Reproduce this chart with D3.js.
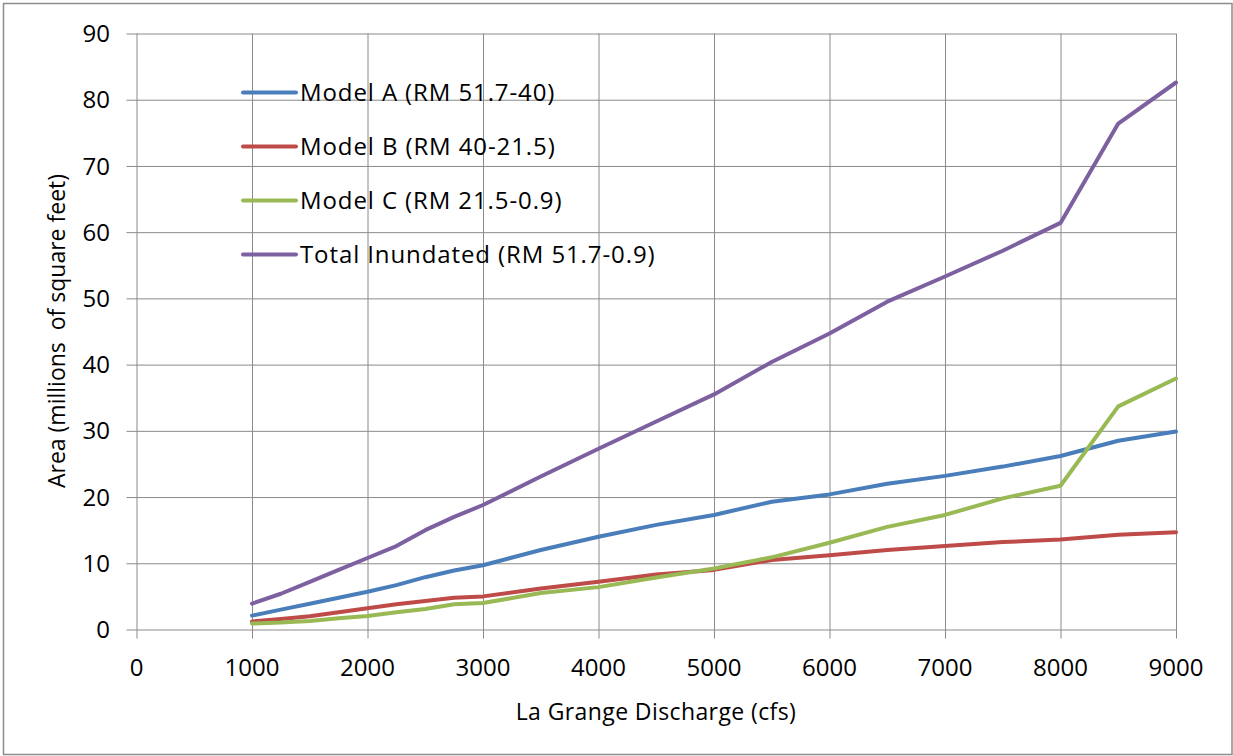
<!DOCTYPE html>
<html>
<head>
<meta charset="utf-8">
<script src="https://cdn.jsdelivr.net/npm/d3@7"></script>
<style>
  body { margin: 0; background: #fff; }
  text { font-family: "Open Sans", "Liberation Sans", sans-serif; fill: #000; }
</style>
</head>
<body>
<div id="chart"></div>
<script>
// discharge values (cfs)
var discharge = [1000, 1250, 1500, 1750, 2000, 2250, 2500, 2750, 3000, 3500, 4000, 4500, 5000, 5500, 6000, 6500, 7000, 7500, 8000, 8500, 9000];

// area in millions of square feet
var modelA = [2.1, 3.0, 3.9, 4.8, 5.7, 6.7, 7.9, 8.9, 9.7, 12.0, 14.0, 15.8, 17.3, 19.3, 20.4, 22.0, 23.2, 24.6, 26.2, 28.5, 29.9];
var modelB = [1.2, 1.6, 2.0, 2.6, 3.2, 3.8, 4.3, 4.8, 5.0, 6.2, 7.2, 8.3, 9.0, 10.5, 11.2, 12.0, 12.6, 13.2, 13.6, 14.3, 14.7];
var modelC = [0.9, 1.05, 1.3, 1.7, 2.05, 2.6, 3.1, 3.8, 4.0, 5.5, 6.4, 7.85, 9.2, 10.9, 13.1, 15.5, 17.3, 19.8, 21.7, 33.7, 37.9];
var total = [3.9, 5.4, 7.2, 9.0, 10.8, 12.6, 15.0, 17.0, 18.8, 23.1, 27.3, 31.4, 35.5, 40.4, 44.7, 49.5, 53.3, 57.2, 61.4, 76.4, 82.6];

var seriesNames = ["Model A (RM 51.7-40)", "Model B (RM 40-21.5)", "Model C (RM 21.5-0.9)", "Total Inundated (RM 51.7-0.9)"];
var seriesColors = ["#4a7ebb", "#be4b48", "#98b954", "#7d60a0"];
var xTicks = [0, 1000, 2000, 3000, 4000, 5000, 6000, 7000, 8000, 9000];
var yTicks = [0, 10, 20, 30, 40, 50, 60, 70, 80, 90];

var width = 1233, height = 756;
var margin = {left: 136.5, right: 57, top: 33.5, bottom: 126.5};

var svg = d3.select('#chart')
  .append('svg')
  .attr('width', width)
  .attr('height', height);

// outer chart frame
svg.append('rect')
  .attr('x', 3.5).attr('y', 3.5)
  .attr('width', width - 4.5).attr('height', height - 5)
  .attr('fill', '#fff')
  .attr('stroke', '#8c8c8c')
  .attr('stroke-width', 1.5);

var x = d3.scaleLinear().domain([0, 9000]).range([margin.left, width - margin.right]);
var y = d3.scaleLinear().domain([0, 90]).range([height - margin.bottom, margin.top]);

var gridColor = '#8a8a8a';

// horizontal grid lines with outside ticks
svg.append('g')
  .attr('transform', 'translate(' + margin.left + ',0)')
  .call(d3.axisLeft(y).tickValues(yTicks).tickSize(-(x.range()[1] - x.range()[0])).tickFormat(''))
  .call(function(g) {
    g.select('.domain').remove();
    g.selectAll('.tick line').attr('stroke', gridColor).attr('x1', -10);
  });

// vertical grid lines with outside ticks
svg.append('g')
  .attr('transform', 'translate(0,' + y(0) + ')')
  .call(d3.axisBottom(x).tickValues(xTicks).tickSize(-(y.range()[0] - y.range()[1])).tickFormat(''))
  .call(function(g) {
    g.select('.domain').remove();
    g.selectAll('.tick line').attr('stroke', gridColor).attr('y1', 9);
  });

// y tick labels
svg.append('g')
  .selectAll('text')
  .data(yTicks)
  .enter().append('text')
  .attr('x', 110)
  .attr('y', function(d) { return y(d); })
  .attr('dy', '0.36em')
  .attr('text-anchor', 'end')
  .style('font-size', '24px')
  .text(function(d) { return d; });

// x tick labels
svg.append('g')
  .selectAll('text')
  .data(xTicks)
  .enter().append('text')
  .attr('x', function(d) { return x(d); })
  .attr('y', 667)
  .attr('dy', '0.36em')
  .attr('text-anchor', 'middle')
  .style('font-size', '24px')
  .text(function(d) { return d; });

// axis titles
svg.append('text')
  .attr('x', 656)
  .attr('y', 712)
  .attr('dy', '0.36em')
  .attr('text-anchor', 'middle')
  .style('font-size', '23px')
  .style('letter-spacing', '0.4px')
  .text('La Grange Discharge (cfs)');

svg.append('text')
  .attr('transform', 'translate(57,331) rotate(-90)')
  .attr('dy', '0.36em')
  .attr('text-anchor', 'middle')
  .style('font-size', '23px')
  .style('white-space', 'pre')
  .attr('xml:space', 'preserve')
  .text('Area (millions  of square feet)');

// lines
var allSeries = [modelA, modelB, modelC, total];
var line = d3.line()
  .x(function(d, i) { return x(discharge[i]); })
  .y(function(d) { return y(d); });

svg.append('g')
  .selectAll('path')
  .data(allSeries)
  .enter().append('path')
  .attr('d', line)
  .attr('fill', 'none')
  .attr('stroke', function(d, i) { return seriesColors[i]; })
  .attr('stroke-width', 4)
  .attr('stroke-linejoin', 'round')
  .attr('stroke-linecap', 'round');

// legend
var legend = svg.append('g')
  .selectAll('g')
  .data(seriesNames)
  .enter().append('g')
  .attr('transform', function(d, i) { return 'translate(243,' + (92.5 + i * 54) + ')'; });

legend.append('line')
  .attr('x1', 0).attr('x2', 53)
  .attr('stroke', function(d, i) { return seriesColors[i]; })
  .attr('stroke-width', 4)
  .attr('stroke-linecap', 'round');

legend.append('text')
  .attr('x', 57)
  .attr('dy', '0.36em')
  .style('font-size', '24px')
  .style('letter-spacing', '0.9px')
  .text(function(d) { return d; });
</script>
</body>
</html>
